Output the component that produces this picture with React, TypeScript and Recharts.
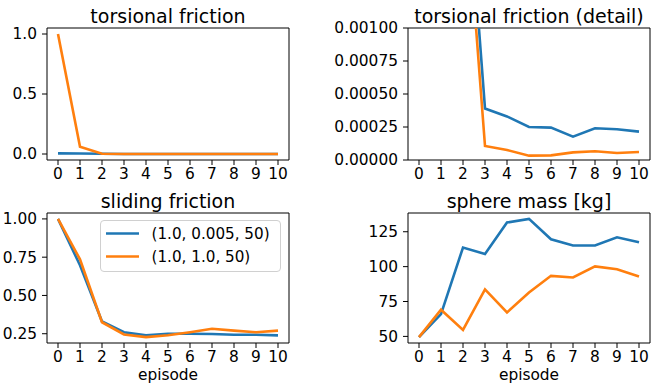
import React from 'react';
import { LineChart, Line, XAxis, YAxis, ReferenceArea, Legend, Customized } from 'recharts';

const episodes = [0, 1, 2, 3, 4, 5, 6, 7, 8, 9, 10];
const seriesNames = ['(1.0, 0.005, 50)', '(1.0, 1.0, 50)'];

const torsionalBlue = [0.005, 0.0045, 0.0026, 0.00039, 0.00033, 0.00025, 0.000245, 0.000177, 0.00024, 0.000233, 0.000215];
const torsionalOrange = [1.0, 0.061, 0.0023, 0.000106, 0.000076, 0.000033, 0.000035, 0.000058, 0.000066, 0.000053, 0.000061];
const slidingBlue = [1.0, 0.697, 0.33, 0.26, 0.239, 0.25, 0.25, 0.248, 0.243, 0.243, 0.239];
const slidingOrange = [1.0, 0.736, 0.325, 0.245, 0.228, 0.24, 0.26, 0.282, 0.27, 0.26, 0.27];
const massBlue = [49.5, 66, 113.7, 109, 131.6, 134.2, 119.6, 115.1, 115.1, 121, 117.5];
const massOrange = [49.5, 69.1, 54.7, 83.7, 67.2, 81.4, 93.4, 92.2, 100.2, 98.1, 92.9];

const ticksTorsion = [0, 0.5, 1.0];
const ticksDetail = [0, 0.00025, 0.0005, 0.00075, 0.001];
const ticksSliding = [0.25, 0.5, 0.75, 1.0];
const ticksMass = [50, 75, 100, 125];

const BLUE = '#1f77b4';
const ORANGE = '#ff7f0e';
const FONT = '"DejaVu Sans", sans-serif';

function table(a: number[], b: number[]) {
  return episodes.map((ep, i) => ({ ep, blue: a[i], orange: b[i] }));
}

function autoDomain(a: number[], b: number[]): [number, number] {
  const all = [...a, ...b];
  const mn = Math.min(...all);
  const mx = Math.max(...all);
  const m = (mx - mn) * 0.05;
  return [mn - m, mx + m];
}

const LegendBox = () => (
  <div
    style={{
      position: 'relative',
      width: 181,
      height: 52,
      boxSizing: 'border-box',
      border: '1px solid #d0d0d0',
      borderRadius: 4,
      background: 'rgba(255,255,255,0.8)',
    }}
  >
    <svg width={181} height={52} style={{ position: 'absolute', left: -1, top: -1 }}>
      <line x1={6} x2={39} y1={13.5} y2={13.5} stroke={BLUE} strokeWidth={2.6} />
      <text x={51.5} y={19} fontSize={15.2} fontFamily={FONT} fill="#000">{seriesNames[0]}</text>
      <line x1={6} x2={39} y1={36.5} y2={36.5} stroke={ORANGE} strokeWidth={2.6} />
      <text x={51.5} y={42} fontSize={15.2} fontFamily={FONT} fill="#000">{seriesNames[1]}</text>
    </svg>
  </div>
);

type PanelProps = {
  left: number;
  top: number;
  h: number;
  yWidth: number;
  mTop: number;
  mRight: number;
  mBottom: number;
  title: string;
  data: { ep: number; blue: number; orange: number }[];
  domain: [number, number];
  ticks: number[];
  digits: number;
  overflow?: boolean;
  xlabel?: boolean;
  legend?: { left: number; top: number };
};

const W = 326;

function Panel(p: PanelProps) {
  const H = p.h;
  const plotLeft = p.yWidth;
  const plotRight = W - p.mRight;
  const cx = (plotLeft + plotRight) / 2;
  const plotBottom = H - p.mBottom - 30;
  const tickStyle = { fill: '#000', fontSize: 15.4, fontFamily: FONT };
  return (
    <div style={{ position: 'absolute', left: p.left, top: p.top, width: W, height: H }}>
      <LineChart
        width={W}
        height={H}
        data={p.data}
        margin={{ top: p.mTop, right: p.mRight, bottom: p.mBottom, left: 0 }}
      >
        <XAxis
          dataKey="ep"
          type="number"
          domain={[-0.5, 10.5]}
          ticks={episodes}
          interval={0}
          height={30}
          axisLine={false}
          tickLine={{ stroke: '#000', strokeWidth: 1 }}
          tickSize={5}
          tickMargin={3}
          tick={tickStyle}
          allowDataOverflow
        />
        <YAxis
          type="number"
          domain={p.domain}
          ticks={p.ticks}
          interval={0}
          width={p.yWidth}
          axisLine={false}
          tickLine={{ stroke: '#000', strokeWidth: 1 }}
          tickSize={5}
          tickMargin={5}
          tick={tickStyle}
          allowDataOverflow={!!p.overflow}
          tickFormatter={(v: number) => v.toFixed(p.digits)}
        />
        <ReferenceArea
          x1={-0.5}
          x2={10.5}
          y1={p.domain[0]}
          y2={p.domain[1]}
          fill="none"
          stroke="#000"
          strokeWidth={1}
          ifOverflow="visible"
        />
        <Line
          dataKey="blue"
          type="linear"
          stroke={BLUE}
          strokeWidth={2.6}
          dot={false}
          isAnimationActive={false}
          name={seriesNames[0]}
        />
        <Line
          dataKey="orange"
          type="linear"
          stroke={ORANGE}
          strokeWidth={2.6}
          dot={false}
          isAnimationActive={false}
          name={seriesNames[1]}
        />
        <Customized
          component={() => (
            <g>
              <text x={cx} y={p.mTop - 5} textAnchor="middle" fontSize={19} fontFamily={FONT} fill="#000">
                {p.title}
              </text>
              {p.xlabel ? (
                <text x={cx} y={plotBottom + 37} textAnchor="middle" fontSize={15.4} fontFamily={FONT} fill="#000">
                  episode
                </text>
              ) : null}
            </g>
          )}
        />
        {p.legend ? (
          <Legend
            layout="vertical"
            align="center"
            verticalAlign="middle"
            wrapperStyle={{ position: 'absolute', left: p.legend.left, top: p.legend.top, width: 181, height: 52 }}
            content={() => <LegendBox />}
          />
        ) : null}
      </LineChart>
    </div>
  );
}

export default function App() {
  return (
    <div style={{ position: 'absolute', left: 0, top: 0, width: 652, height: 388, background: '#fff' }}>
      <Panel
        left={0}
        top={0}
        h={194}
        yWidth={47}
        mTop={28}
        mRight={37}
        mBottom={4}
        title="torsional friction"
        data={table(torsionalBlue, torsionalOrange)}
        domain={autoDomain(torsionalBlue, torsionalOrange)}
        ticks={ticksTorsion}
        digits={1}
      />
      <Panel
        left={326}
        top={0}
        h={194}
        yWidth={82}
        mTop={28}
        mRight={2}
        mBottom={4}
        title="torsional friction (detail)"
        data={table(torsionalBlue, torsionalOrange)}
        domain={[0, 0.001]}
        ticks={ticksDetail}
        digits={5}
        overflow
      />
      <Panel
        left={0}
        top={174}
        h={214}
        yWidth={47}
        mTop={39}
        mRight={37}
        mBottom={15}
        title="sliding friction"
        data={table(slidingBlue, slidingOrange)}
        domain={autoDomain(slidingBlue, slidingOrange)}
        ticks={ticksSliding}
        digits={2}
        xlabel
        legend={{ left: 100, top: 46 }}
      />
      <Panel
        left={326}
        top={174}
        h={214}
        yWidth={82}
        mTop={39}
        mRight={2}
        mBottom={15}
        title="sphere mass [kg]"
        data={table(massBlue, massOrange)}
        domain={autoDomain(massBlue, massOrange)}
        ticks={ticksMass}
        digits={0}
        xlabel
      />
    </div>
  );
}
